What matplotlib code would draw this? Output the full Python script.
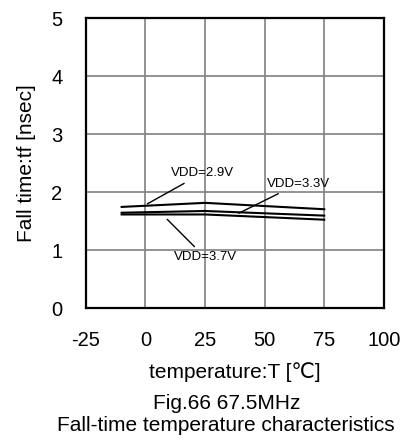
import matplotlib
matplotlib.use("Agg")
import matplotlib.pyplot as plt

plt.rcParams['font.family'] = ['Liberation Sans', 'DejaVu Sans']
plt.rcParams['axes.unicode_minus'] = False

# Fall time vs temperature, 67.5MHz
temp = [-10, 25, 75]
tf_29 = [1.75, 1.82, 1.71]
tf_33 = [1.65, 1.68, 1.60]
tf_37 = [1.62, 1.62, 1.53]

xticks = [-25, 0, 25, 50, 75, 100]
yticks = [0, 1, 2, 3, 4, 5]

fig = plt.figure(figsize=(4.19, 4.41), dpi=100)
ax = fig.add_axes([0.205, 0.3005, 0.711, 0.658])

for vals in (tf_29, tf_33, tf_37):
    ax.plot(temp, vals, color="black", lw=1.5)

ax.set_xlim(-25, 100)
ax.set_ylim(0, 5)
ax.set_xticks(xticks)
ax.set_yticks(yticks)
ax.grid(True, color="#808080", lw=1.2)
ax.set_axisbelow(True)
ax.tick_params(length=0, labelsize=14.5)
ax.tick_params(axis="x", pad=16)
ax.tick_params(axis="y", pad=17)
for s in ax.spines.values():
    s.set_linewidth(1.6)

ax.set_xlabel("temperature:T [℃]", fontsize=15, labelpad=9)
ax.set_ylabel("Fall time:tf [nsec]", fontsize=15, labelpad=11)

# leader lines + labels
ann = dict(arrowprops=dict(arrowstyle="-", color="black", lw=1),
           fontsize=9.5, va="center", ha="left")
ax.annotate("VDD=2.9V", xy=(-0.2, 1.78), xytext=(10.6, 2.33), **ann)
ax.annotate("VDD=3.3V", xy=(38.1, 1.62), xytext=(51.0, 2.15), **ann)
ax.annotate("VDD=3.7V", xy=(8.3, 1.57), xytext=(11.8, 0.88), **ann)

fig.text(0.54, 0.086, "Fig.66 67.5MHz", ha="center", va="center", fontsize=15)
fig.text(0.54, 0.035, "Fall-time temperature characteristics", ha="center", va="center", fontsize=15)

plt.savefig("out.png", dpi=100)
plt.close()
